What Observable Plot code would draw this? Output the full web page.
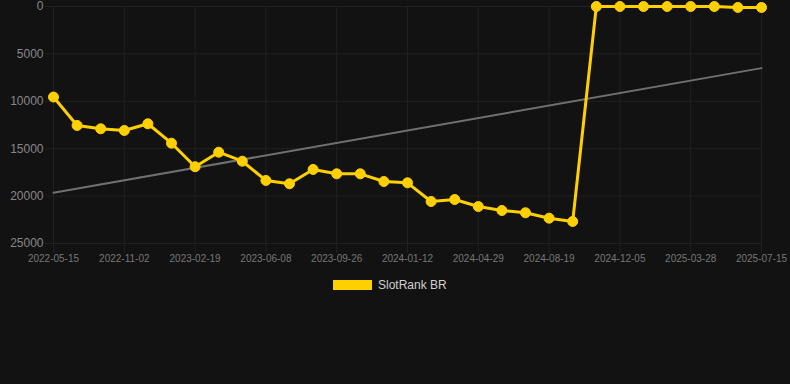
<!DOCTYPE html>
<html>
<head>
<meta charset="utf-8">
<script src="https://cdn.jsdelivr.net/npm/d3@7"></script>
<script src="https://cdn.jsdelivr.net/npm/@observablehq/plot@0.6"></script>
<style>
  html, body { margin: 0; padding: 0; background: #121212; }
  #wrap { position: relative; width: 790px; height: 384px; background: #121212; font-family: "Liberation Sans", Arial, Helvetica, sans-serif; }
  #legend { position: absolute; left: 333px; top: 278px; display: flex; align-items: center; font-size: 12px; color: #d0d0d0; }
  #legend .box { width: 39px; height: 10px; background: #FFD000; margin-right: 6px; }
</style>
</head>
<body>
<div id="wrap"><div id="chart"></div><div id="legend"><span class="box"></span><span>SlotRank BR</span></div></div>
<script>
// Tick labels shown every third point (points are equally spaced categories)
const tickLabels = ["2022-05-15","2022-11-02","2023-02-19","2023-06-08","2023-09-26","2024-01-12","2024-04-29","2024-08-19","2024-12-05","2025-03-28","2025-07-15"];
// Rank values, one per point (31 points)
const rankValues = [9550, 12550, 12900, 13080, 12370, 14420, 16900, 15370, 16320, 18350, 18700, 17190,
                    17650, 17650, 18460, 18600, 20570, 20360, 21100, 21520, 21760, 22330, 22680,
                    1, 1, 1, 1, 1, 1, 100, 100];
// Trend line endpoints (first and last point index)
const trendIndex = [0, 30];
const trendValues = [19650, 6500];
const yTicks = [0, 5000, 10000, 15000, 20000, 25000];

const points = rankValues.map((v, i) => ({i, v}));
const trend = trendIndex.map((i, k) => ({i, v: trendValues[k]}));
const xTickIdx = tickLabels.map((_, k) => k * 3);

const gridColor = "#212121";
const chart = Plot.plot({
  width: 790,
  height: 270,
  marginLeft: 53,
  marginRight: 29,
  marginTop: 6,
  marginBottom: 27,
  style: {background: "#121212", fontFamily: "'Liberation Sans', Arial, Helvetica, sans-serif"},
  x: {type: "linear", domain: [0, 30], label: null},
  y: {domain: [0, 25000], reverse: true, label: null},
  marks: [
    Plot.gridY(yTicks, {stroke: gridColor, strokeOpacity: 1}),
    Plot.gridX(xTickIdx, {stroke: gridColor, strokeOpacity: 1}),
    Plot.axisY(yTicks, {tickSize: 8, tickPadding: 2, stroke: gridColor, color: "#888", fontSize: 12, tickFormat: d => String(d), label: null}),
    Plot.axisX(xTickIdx, {tickSize: 10, tickPadding: 1, stroke: gridColor, color: "#777", fontSize: 10, tickFormat: i => tickLabels[i / 3], label: null}),
    Plot.line(trend, {x: "i", y: "v", stroke: "#707070", strokeWidth: 2}),
    Plot.line(points, {x: "i", y: "v", stroke: "#FFD000", strokeWidth: 3}),
    Plot.dot(points, {x: "i", y: "v", r: 5, fill: "#FFD000", stroke: "#FFD000", strokeWidth: 1})
  ]
});
document.getElementById("chart").appendChild(chart);
</script>
</body>
</html>
